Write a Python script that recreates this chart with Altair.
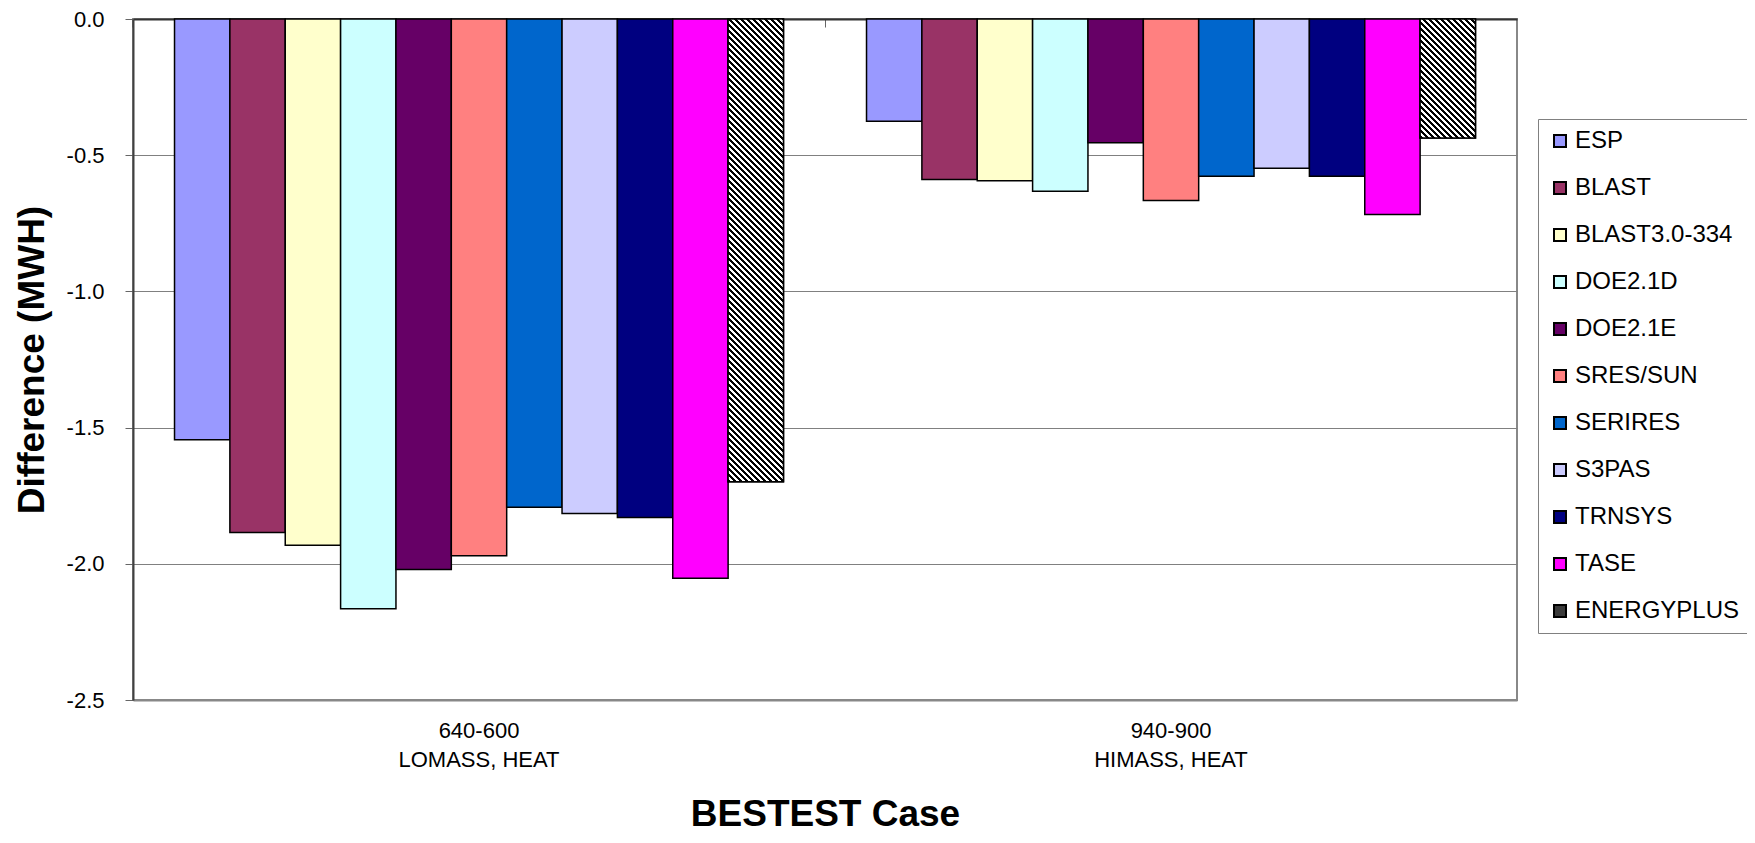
import math
import altair as alt
import pandas as pd

# ---------------- data ----------------
programs = ["ESP", "BLAST", "BLAST3.0-334", "DOE2.1D", "DOE2.1E", "SRES/SUN",
            "SERIRES", "S3PAS", "TRNSYS", "TASE", "ENERGYPLUS"]
colors = ["#9999FF", "#993366", "#FFFFCC", "#CCFFFF", "#660066", "#FF8080",
          "#0066CC", "#CCCCFF", "#000080", "#FF00FF", "#3A3A3A"]
case_ids = ["640-600", "940-900"]
case_descs = ["LOMASS, HEAT", "HIMASS, HEAT"]
diff_640_600 = [-1.545, -1.885, -1.932, -2.165, -2.021, -1.970,
                -1.792, -1.815, -1.830, -2.053, -1.699]
diff_940_900 = [-0.375, -0.589, -0.594, -0.632, -0.454, -0.666,
                -0.577, -0.548, -0.577, -0.718, -0.437]
y_ticks = [0.0, -0.5, -1.0, -1.5, -2.0, -2.5]

cases = [f"{i}|{d}" for i, d in zip(case_ids, case_descs)]
rows = []
for case, vals in zip(cases, [diff_640_600, diff_940_900]):
    for p, v in zip(programs, vals):
        rows.append({"case": case, "program": p, "value": v})
df = pd.DataFrame(rows)

# ---------------- layout ----------------
W, H = 1384, 681
Y_MIN = -2.5
PAD_INNER = 0.12
FONT = "Liberation Sans"


def hatch_fill(value, period=6.0):
    """Diagonal black/white stripes as a linear gradient for one bar."""
    step = W / len(cases)
    bw = step * (1 - PAD_INNER) / len(programs)
    bh = abs(value) / abs(Y_MIN) * H
    r = bw / bh
    s = (r + 1) / (r * r + 1)
    n = (bw + bh) / period
    stops = []
    for i in range(int(math.ceil(n))):
        a, b, c = i / n, (i + 0.5) / n, (i + 1) / n
        stops += [
            {"offset": min(a, 1.0), "color": "black"},
            {"offset": min(b, 1.0), "color": "black"},
            {"offset": min(b, 1.0), "color": "white"},
            {"offset": min(c, 1.0), "color": "white"},
        ]
    return {"gradient": "linear", "x1": 0, "y1": 1, "x2": s * r, "y2": 1 - s,
            "stops": stops}


x_scale = alt.Scale(domain=cases, paddingInner=PAD_INNER, paddingOuter=PAD_INNER / 2)
xo_enc = alt.XOffset("program:N", sort=programs,
                     scale=alt.Scale(domain=programs, paddingInner=0, paddingOuter=0))
y_enc = alt.Y(
    "value:Q",
    scale=alt.Scale(domain=[Y_MIN, 0], nice=False, zero=False),
    axis=alt.Axis(
        values=y_ticks,
        labelExpr="datum.value == 0 ? '0.0' : '-' + format(-datum.value, '.1f')",
        labelFont=FONT, labelFontSize=22, labelColor="black", labelPadding=21,
        tickSize=8, tickColor="#666666", tickWidth=1,
        domainColor="#404040", domainWidth=2,
        grid=True, gridColor="#808080", gridWidth=1,
        title="Difference (MWH)", titleFont=FONT, titleFontSize=37,
        titleFontWeight="bold", titleColor="black",
        titleX=-101, titleY=H / 2, titleBaseline="middle",
    ),
)

bars = alt.Chart(df).mark_bar(stroke="black", strokeWidth=1.5).encode(
    x=alt.X("case:N", scale=x_scale, sort=cases,
            axis=alt.Axis(orient="bottom", labelAngle=0,
                          labelExpr="split(datum.label, '|')",
                          labelFont=FONT, labelFontSize=22, labelColor="black",
                          labelLineHeight=29, labelBaseline="top", labelPadding=20,
                          ticks=False, tickSize=0,
                          domainColor="#888888", domainWidth=2, grid=False,
                          title="BESTEST Case", titleFont=FONT, titleFontSize=37,
                          titleFontWeight="bold", titleColor="black",
                          titleBaseline="alphabetic", titleY=125)),
    xOffset=xo_enc,
    y=y_enc,
    color=alt.Color("program:N", sort=programs,
                    scale=alt.Scale(domain=programs, range=colors),
                    legend=alt.Legend(title=None, orient="none",
                                      legendX=1405, legendY=100,
                                      symbolType="square", symbolSize=144,
                                      symbolStrokeColor="black", symbolStrokeWidth=2,
                                      symbolOpacity=1,
                                      labelFont=FONT, labelFontSize=24,
                                      labelColor="black", labelOffset=3,
                                      labelLimit=320,
                                      rowPadding=23, padding=10,
                                      strokeColor="#808080")),
)

hatch_layers = []
for k, (case, vals) in enumerate(zip(cases, [diff_640_600, diff_940_900])):
    ep_val = vals[programs.index("ENERGYPLUS")]
    if k == 0:
        x_axis = alt.Axis(orient="bottom", offset=-H, labels=False,
                          ticks=True, tickSize=8, tickColor="#666666", tickWidth=1,
                          bandPosition=-(PAD_INNER / 2) / (1 - PAD_INNER),
                          domainColor="#333333", domainWidth=2, grid=False,
                          title=None)
    else:
        x_axis = None
    layer = alt.Chart(df).transform_filter(
        (alt.datum.program == "ENERGYPLUS") & (alt.datum.case == case)
    ).mark_bar(fill=hatch_fill(ep_val), stroke="black", strokeWidth=1.5).encode(
        x=alt.X("case:N", scale=x_scale, sort=cases, axis=x_axis),
        xOffset=xo_enc,
        y=y_enc,
    )
    hatch_layers.append(layer)

chart = alt.layer(bars, *hatch_layers).resolve_axis(x="independent").properties(
    width=W, height=H,
    autosize=alt.AutoSizeParams(type="none"),
    padding={"left": 125, "top": 11, "right": 230, "bottom": 133},
    background="white",
).configure_view(stroke="#888888", strokeWidth=2)

chart.save("out.html", embed_options={"renderer": "svg", "actions": False})
